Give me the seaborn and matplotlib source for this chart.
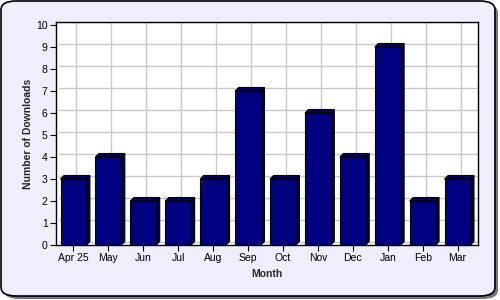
import matplotlib
matplotlib.use("Agg")
import matplotlib.pyplot as plt
import matplotlib.transforms as mtransforms
from matplotlib.patches import FancyBboxPatch, Polygon
import seaborn as sns
import pandas as pd

months = ["Apr 25", "May", "Jun", "Jul", "Aug", "Sep", "Oct", "Nov", "Dec", "Jan", "Feb", "Mar"]
downloads = [3, 4, 2, 2, 3, 7, 3, 6, 4, 9, 2, 3]
yticks = list(range(0, 11))

sns.set_theme(style="white")
plt.rcParams["font.family"] = ["Liberation Sans", "DejaVu Sans"]

df = pd.DataFrame({"Month": months, "Downloads": downloads})

fig = plt.figure(figsize=(5, 3), dpi=100)
fig.patch.set_facecolor("white")

# background panel with shadow
shadow = FancyBboxPatch((4 / 500, 1 / 300), 494 / 500, 295 / 300,
                        boxstyle="round,pad=0,rounding_size=0.03",
                        transform=fig.transFigure, facecolor="#777777",
                        edgecolor="none", zorder=0)
panel = FancyBboxPatch((1 / 500, 4 / 300), 494 / 500, 295 / 300,
                       boxstyle="round,pad=0,rounding_size=0.03",
                       transform=fig.transFigure, facecolor="#EEEEFC",
                       edgecolor="black", linewidth=1.2, zorder=1)
fig.patches.extend([shadow, panel])

L, R, B, T = 56, 478, 245, 22
ax = fig.add_axes([L / 500, 1 - B / 300, (R - L) / 500, (B - T) / 300])
ax.set_zorder(2)
ax.set_facecolor("white")

depth_px = 3.5
sns.barplot(data=df, x="Month", y="Downloads", color="#000080", width=0.74,
            saturation=1, edgecolor="black", linewidth=0.8, ax=ax, zorder=3)

ax.set_ylim(0, 10 * (B - T) / (B - T - 3))
ax.set_xlim(-0.5, 11.5 + 3 / 35)

# 3D side and top of bars, derived from the seaborn bar patches
tr = ax.transData
inv = tr.inverted()
for p in list(ax.patches):
    x0, y0 = p.get_x(), p.get_y()
    w, h = p.get_width(), p.get_height()
    disp = tr.transform([(x0 + w, y0), (x0 + w, y0 + h), (x0, y0 + h)])
    d = depth_px
    side_pts = [disp[0], disp[1], disp[1] + [d, d], disp[0] + [d, d]]
    top_pts = [disp[2], disp[1], disp[1] + [d, d], disp[2] + [d, d]]
    ax.add_patch(Polygon(inv.transform(side_pts), closed=True, facecolor="#000040",
                         edgecolor="black", linewidth=0.8, zorder=2.9))
    ax.add_patch(Polygon(inv.transform(top_pts), closed=True, facecolor="#00006A",
                         edgecolor="black", linewidth=0.8, zorder=2.9))

ax.set_yticks(yticks)
ax.set_yticklabels([str(v) for v in yticks])
ax.tick_params(axis="both", which="major", direction="out", length=4, width=0.8,
               colors="black", labelsize=7.5, pad=2, left=True, bottom=True)

# grid on back wall (offset)
ax.grid(True, color="#C8C8C8", linewidth=1)
ax.set_axisbelow(True)
grid_off = mtransforms.ScaledTranslation(3 / 100, 3 / 100, fig.dpi_scale_trans)
for gl in ax.get_xgridlines() + ax.get_ygridlines():
    gl.set_transform(gl.get_transform() + grid_off)

for s in ax.spines.values():
    s.set_color("black")
    s.set_linewidth(1)

ax.set_xlabel("Month", fontsize=7.5, fontweight="bold", labelpad=4)
ax.set_ylabel("Number of Downloads", fontsize=7.5, fontweight="bold", labelpad=2)

fig.savefig("out.png", dpi=100, facecolor=fig.get_facecolor())
